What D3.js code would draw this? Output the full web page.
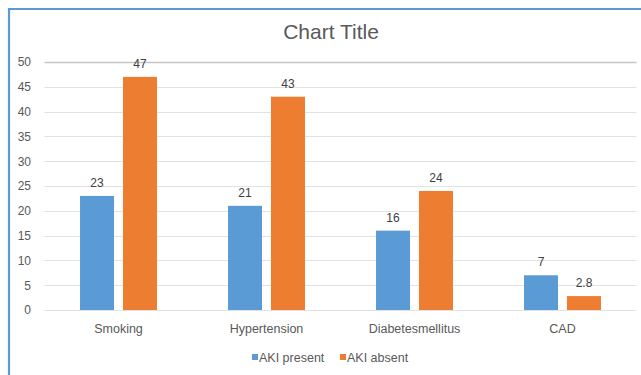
<!DOCTYPE html>
<html>
<head>
<meta charset="utf-8">
<script src="https://cdn.jsdelivr.net/npm/d3@7"></script>
<style>
  html, body { margin: 0; padding: 0; background: #fff; }
  svg { display: block; font-family: "Liberation Sans", Arial, sans-serif; }
</style>
</head>
<body>
<svg id="chart" width="641" height="375"></svg>
<script>
// Risk factors by AKI status
const categories = ["Smoking", "Hypertension", "Diabetesmellitus", "CAD"];
const seriesNames = ["AKI present", "AKI absent"];
const akiPresent = [23, 21, 16, 7];
const akiAbsent = [47, 43, 24, 2.8];
const yTicks = [0, 5, 10, 15, 20, 25, 30, 35, 40, 45, 50];
const colors = ["#5B9BD5", "#ED7D31"];

const svg = d3.select("#chart");
const W = 641, H = 375;

// Chart frame (left and top edges visible)
svg.append("rect").attr("x", 0).attr("y", 0).attr("width", W).attr("height", H).attr("fill", "#fff");
svg.append("path")
  .attr("d", `M9,${H} L9,9 L${W},9`)
  .attr("fill", "none").attr("stroke", "#5B9BD5").attr("stroke-width", 2.2);

const plot = { left: 44.5, right: 636.5, top: 62, bottom: 310 };

const x0 = d3.scaleBand().domain(categories)
  .range([plot.left, plot.right])
  .paddingInner(0.48).paddingOuter(0.24);
const x1 = d3.scaleBand().domain(seriesNames)
  .range([0, x0.bandwidth()])
  .paddingInner(0.209).paddingOuter(0);
const y = d3.scaleLinear().domain([0, 50]).range([plot.bottom, plot.top]);

const labelFont = "'Liberation Sans', Arial, sans-serif";

// Gridlines
svg.append("g").selectAll("line").data(yTicks).join("line")
  .attr("x1", plot.left).attr("x2", plot.right)
  .attr("y1", d => Math.round(y(d)) + 0.5).attr("y2", d => Math.round(y(d)) + 0.5)
  .attr("stroke", d => d === 50 ? "#c6c6c6" : "#e2e2e2")
  .attr("stroke-width", d => d === 50 ? 1.3 : 1);

// Y axis labels
const yAxis = d3.axisLeft(y).tickValues(yTicks).tickSize(0).tickPadding(0);
const gy = svg.append("g").attr("transform", "translate(31,0)").call(yAxis);
gy.select(".domain").remove();
gy.selectAll("text").attr("fill", "#595959").attr("font-size", 12)
  .attr("font-family", labelFont);

// X axis labels
const xAxis = d3.axisBottom(x0).tickSize(0).tickPadding(0);
const gx = svg.append("g").attr("transform", `translate(0,${plot.bottom + 14})`).call(xAxis);
gx.select(".domain").remove();
gx.selectAll("text").attr("fill", "#595959").attr("font-size", 12.5)
  .attr("font-family", labelFont);

// Bars
const rows = categories.map((c, i) => ({
  cat: c,
  vals: [{ s: seriesNames[0], v: akiPresent[i] }, { s: seriesNames[1], v: akiAbsent[i] }]
}));

const groups = svg.append("g").selectAll("g").data(rows).join("g")
  .attr("transform", d => `translate(${x0(d.cat)},0)`);

groups.selectAll("rect").data(d => d.vals).join("rect")
  .attr("x", d => x1(d.s))
  .attr("y", d => y(d.v))
  .attr("width", x1.bandwidth())
  .attr("height", d => y(0) - y(d.v))
  .attr("fill", (d, i) => colors[i]);

// Value labels
groups.selectAll("text").data(d => d.vals).join("text")
  .attr("x", d => x1(d.s) + x1.bandwidth() / 2)
  .attr("y", d => y(d.v) - 9)
  .attr("text-anchor", "middle")
  .attr("font-size", 12)
  .attr("fill", "#404040")
  .text(d => d.v);

// Title
svg.append("text")
  .attr("x", 331).attr("y", 39)
  .attr("text-anchor", "middle")
  .attr("font-size", 21)
  .attr("fill", "#595959")
  .text("Chart Title");

// Legend
const legend = svg.append("g").attr("transform", "translate(252,358)");
const items = [{ name: seriesNames[0], x: 0 }, { name: seriesNames[1], x: 88 }];
items.forEach((it, i) => {
  legend.append("rect").attr("x", it.x).attr("y", -4).attr("width", 6).attr("height", 6).attr("fill", colors[i]);
  legend.append("text").attr("x", it.x + 7).attr("y", 3.5)
    .attr("font-size", 12.5).attr("fill", "#595959").text(it.name);
});
</script>
</body>
</html>
